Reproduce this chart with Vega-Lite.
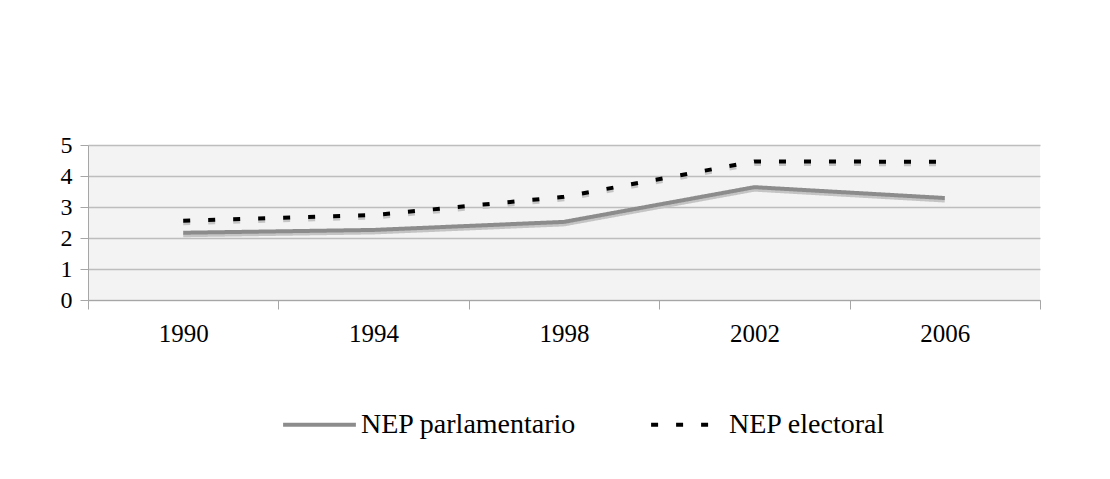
{
  "$schema": "https://vega.github.io/schema/vega-lite/v6.json",
  "width": 952,
  "height": 155,
  "autosize": {"type": "none"},
  "padding": {"left": 88, "top": 145, "right": 70, "bottom": 179},
  "background": "white",
  "config": {
    "font": "'Times New Roman', 'Liberation Serif', serif",
    "view": {"fill": "#f3f3f3", "stroke": null},
    "axis": {"labelFont": "'Times New Roman', 'Liberation Serif', serif"},
    "legend": {
      "labelFont": "'Times New Roman', 'Liberation Serif', serif",
      "title": null,
      "orient": "none",
      "legendX": 193,
      "legendY": 241,
      "direction": "horizontal",
      "symbolType": "stroke",
      "symbolSize": 5300,
      "symbolStrokeWidth": 4,
      "labelFontSize": 28,
      "labelColor": "#000000",
      "labelLimit": 400,
      "columnPadding": 66,
      "labelOffset": 3
    }
  },
  "data": {
    "values": [
      {"year": "1990", "serie": "NEP parlamentario", "nep": 2.17},
      {"year": "1994", "serie": "NEP parlamentario", "nep": 2.26},
      {"year": "1998", "serie": "NEP parlamentario", "nep": 2.52},
      {"year": "2002", "serie": "NEP parlamentario", "nep": 3.64},
      {"year": "2006", "serie": "NEP parlamentario", "nep": 3.29},
      {"year": "1990", "serie": "NEP electoral", "nep": 2.56},
      {"year": "1994", "serie": "NEP electoral", "nep": 2.74},
      {"year": "1998", "serie": "NEP electoral", "nep": 3.33},
      {"year": "2002", "serie": "NEP electoral", "nep": 4.47},
      {"year": "2006", "serie": "NEP electoral", "nep": 4.46}
    ]
  },
  "encoding": {
    "x": {
      "field": "year",
      "type": "ordinal",
      "bandPosition": 0.5,
      "scale": {"type": "band", "paddingInner": 0, "paddingOuter": 0},
      "axis": {
        "title": null,
        "labelAngle": 0,
        "tickBand": "extent",
        "grid": false,
        "domainColor": "#a6a6a6",
        "tickColor": "#a6a6a6",
        "tickSize": 9,
        "labelFontSize": 25,
        "labelColor": "#000000",
        "labelPadding": 12
      }
    },
    "y": {
      "field": "nep",
      "type": "quantitative",
      "scale": {"domain": [0, 5]},
      "axis": {
        "title": null,
        "values": [0, 1, 2, 3, 4, 5],
        "gridColor": "#bdbdbd",
        "gridWidth": 1.5,
        "domainColor": "#a6a6a6",
        "tickColor": "#a6a6a6",
        "tickSize": 8,
        "labelFontSize": 24,
        "labelColor": "#000000",
        "labelPadding": 8
      }
    },
    "strokeDash": {
      "field": "serie",
      "type": "nominal",
      "sort": ["NEP parlamentario", "NEP electoral"],
      "scale": {"domain": ["NEP parlamentario", "NEP electoral"], "range": [[1, 0], [7, 18]]}
    }
  },
  "layer": [
    {
      "mark": {"type": "line", "strokeWidth": 4, "yOffset": 2.5, "color": "#c4c4c4"}
    },
    {
      "mark": {"type": "line", "strokeWidth": 4},
      "encoding": {
        "color": {
          "field": "serie",
          "type": "nominal",
          "sort": ["NEP parlamentario", "NEP electoral"],
          "scale": {"domain": ["NEP parlamentario", "NEP electoral"], "range": ["#8c8c8c", "#000000"]}
        }
      }
    }
  ]
}
